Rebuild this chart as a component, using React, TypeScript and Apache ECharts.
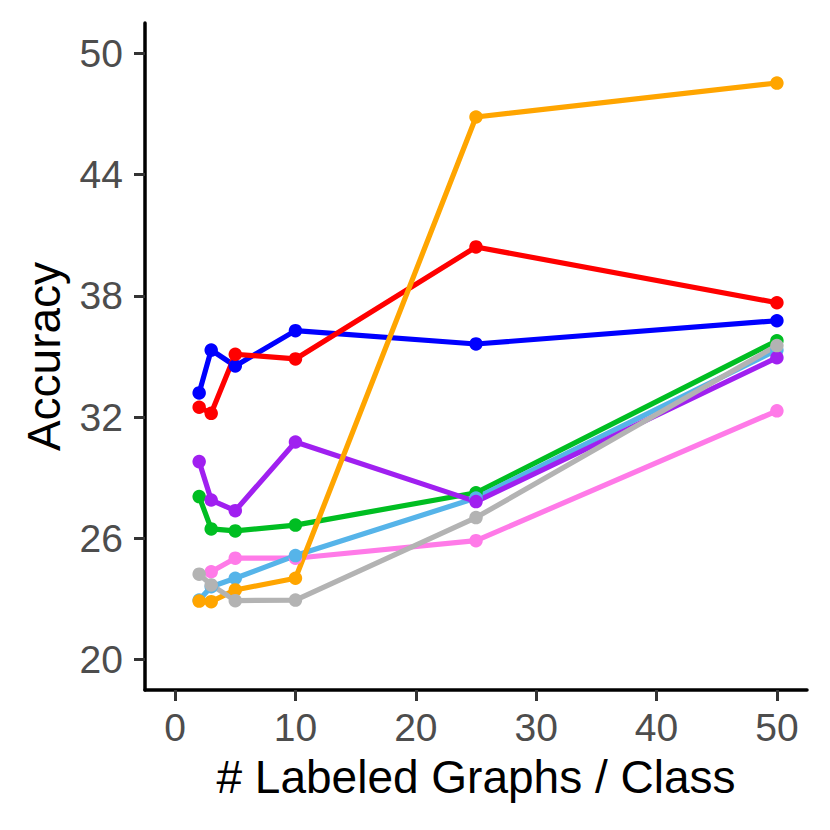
import React, { useEffect, useRef } from "react";
import * as echarts from "echarts";

const xValues = [2, 3, 5, 10, 25, 50];
const xTicks = [0, 10, 20, 30, 40, 50];
const yTicks = [20, 26, 32, 38, 44, 50];

const blueVals = [33.2, 35.32, 34.53, 36.28, 35.62, 36.77];
const redVals = [32.49, 32.19, 35.11, 34.88, 40.42, 37.66];
const greenVals = [28.07, 26.47, 26.37, 26.66, 28.26, 35.78];
const pinkVals: (number | null)[] = [null, 24.35, 25.02, 25.02, 25.89, 32.31];
const skyVals = [22.95, 23.61, 24.03, 25.15, 28.0, 35.32];
const purpleVals = [29.8, 27.9, 27.37, 30.77, 27.82, 34.94];
const orangeVals = [22.9, 22.87, 23.45, 24.03, 46.85, 48.53];
const grayVals = [24.23, 23.7, 22.92, 22.95, 27.03, 35.54];

const seriesDefs: { name: string; color: string; vals: (number | null)[] }[] = [
  { name: "blue", color: "#0000FF", vals: blueVals },
  { name: "red", color: "#FF0000", vals: redVals },
  { name: "green", color: "#00BE22", vals: greenVals },
  { name: "pink", color: "#FF7AE8", vals: pinkVals },
  { name: "sky", color: "#56B4E9", vals: skyVals },
  { name: "purple", color: "#A020F0", vals: purpleVals },
  { name: "orange", color: "#FFA500", vals: orangeVals },
  { name: "gray", color: "#B3B3B3", vals: grayVals },
];

const FONT = "Liberation Sans, Arial, sans-serif";

export default function App() {
  const ref = useRef<HTMLDivElement>(null);
  useEffect(() => {
    if (!ref.current) return;
    const chart = echarts.init(ref.current, undefined, { renderer: "svg" });
    chart.setOption({
      animation: false,
      backgroundColor: "#FFFFFF",
      grid: { left: 145, top: 23, right: 23, bottom: 140, containLabel: false },
      xAxis: {
        type: "value",
        min: -2.5,
        max: 52.5,
        name: "# Labeled Graphs / Class",
        nameLocation: "middle",
        nameGap: 64,
        nameTextStyle: { fontFamily: FONT, fontSize: 46, color: "#000000" },
        splitLine: { show: false },
        axisLine: { show: true, onZero: false, lineStyle: { color: "#000000", width: 3.5 } },
        axisTick: {
          show: true,
          length: 11,
          customValues: xTicks,
          lineStyle: { color: "#333333", width: 3 },
        },
        axisLabel: {
          customValues: xTicks,
          margin: 18,
          fontFamily: FONT,
          fontSize: 39,
          color: "#4D4D4D",
        },
      },
      yAxis: {
        type: "value",
        min: 18.5,
        max: 51.5,
        name: "Accuracy",
        nameLocation: "middle",
        nameGap: 78,
        nameTextStyle: { fontFamily: FONT, fontSize: 46, color: "#000000" },
        splitLine: { show: false },
        axisLine: { show: true, onZero: false, lineStyle: { color: "#000000", width: 3.5 } },
        axisTick: {
          show: true,
          length: 11,
          customValues: yTicks,
          lineStyle: { color: "#333333", width: 3 },
        },
        axisLabel: {
          customValues: yTicks,
          margin: 22,
          fontFamily: FONT,
          fontSize: 39,
          color: "#4D4D4D",
        },
      },
      series: seriesDefs.map((s) => ({
        type: "line",
        name: s.name,
        data: xValues
          .map((x, i) => [x, s.vals[i]])
          .filter((d) => d[1] !== null && d[1] !== undefined),
        symbol: "circle",
        symbolSize: 13.5,
        showSymbol: true,
        lineStyle: { color: s.color, width: 5.2 },
        itemStyle: { color: s.color },
        emphasis: { disabled: true },
      })),
    });
    return () => chart.dispose();
  }, []);
  return (
    <div
      ref={ref}
      style={{ position: "fixed", left: 0, top: 0, width: 830, height: 830 }}
    />
  );
}
